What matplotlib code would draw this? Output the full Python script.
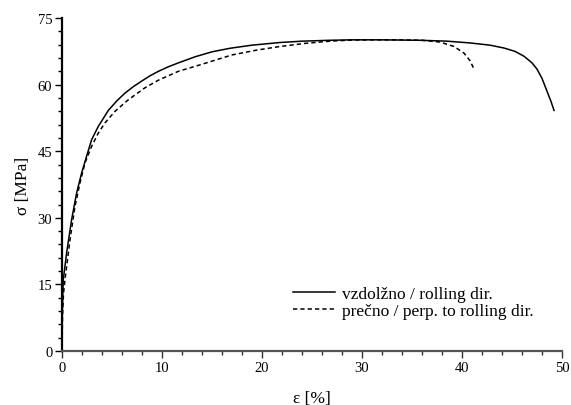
import matplotlib
matplotlib.use("Agg")
import matplotlib.pyplot as plt
from matplotlib.ticker import MultipleLocator

plt.rcParams['font.family'] = ['Liberation Serif', 'DejaVu Serif']

# rolling direction (solid)
rd_strain = [0.0, 0.03, 0.08, 0.13, 0.46, 0.96, 1.46, 1.96, 2.46, 2.96, 3.63, 4.63, 5.5,
             6.3, 7.1, 7.96, 8.8, 9.63, 10.6, 11.63, 13.33, 15.0, 16.8, 19.0, 21.8, 24.0,
             26.8, 29.0, 31.8, 34.0, 35.8, 38.5, 40.8, 42.8, 44.2, 45.3, 46.2, 47.0, 47.5,
             48.0, 48.5, 48.9, 49.2]
rd_stress = [0.0, 8.0, 13.0, 16.1, 22.1, 29.6, 35.6, 40.1, 43.9, 47.6, 50.6, 54.2, 56.4,
             58.1, 59.5, 60.8, 62.0, 63.0, 64.0, 64.9, 66.3, 67.4, 68.2, 68.9, 69.5, 69.8,
             70.0, 70.1, 70.1, 70.05, 70.0, 69.8, 69.4, 68.9, 68.25, 67.5, 66.4, 64.9, 63.5,
             61.4, 58.5, 56.2, 54.2]
# perpendicular to rolling direction (dashed)
pd_strain = [0.0, 0.05, 0.15, 0.3, 0.8, 1.3, 1.8, 2.3, 2.96, 3.63, 4.3, 5.3, 6.63, 8.3,
             9.63, 11.63, 14.0, 17.0, 19.5, 21.8, 24.3, 26.8, 29.0, 31.0, 33.5, 36.0,
             37.8, 39.2, 40.2, 40.8, 41.2]
pd_stress = [0.0, 8.0, 13.0, 16.1, 25.1, 32.6, 37.9, 42.4, 46.1, 49.1, 51.4, 54.0, 56.6, 59.3,
             61.0, 63.0, 64.6, 66.7, 67.8, 68.6, 69.3, 69.8, 70.05, 70.1, 70.1, 70.0,
             69.6, 68.6, 67.1, 65.4, 63.5]

labels = ['vzdolžno / rolling dir.', 'prečno / perp. to rolling dir.']
xticks = [0, 10, 20, 30, 40, 50]
yticks = [0, 15, 30, 45, 60, 75]

fig = plt.figure(figsize=(5.71, 4.06), dpi=100)
ax = fig.add_axes([0.1086, 0.133, 0.8757, 0.820])

ax.plot(rd_strain, rd_stress, color='black', lw=1.1, label=labels[0])
ax.plot(pd_strain, pd_stress, color='black', lw=1.1, ls=(0, (2.8, 2.0)), label=labels[1])

ax.set_xlim(0, 50)
ax.set_ylim(0, 75)
ax.set_xticks(xticks)
ax.set_yticks(yticks)
ax.xaxis.set_minor_locator(MultipleLocator(2))
ax.yaxis.set_minor_locator(MultipleLocator(3))
ax.tick_params(which='major', direction='out', length=5, width=1, labelsize=10.5, pad=2)
ax.tick_params(which='minor', direction='out', length=3, width=1)

for s in ['top', 'right']:
    ax.spines[s].set_visible(False)
ax.spines['left'].set_linewidth(1.6)
ax.spines['left'].set_color('black')
ax.spines['bottom'].set_linewidth(1.6)
ax.spines['bottom'].set_color('#555555')
ax.tick_params(axis='x', which='both', color='#333333')

ax.set_xlabel('ε [%]', fontsize=12.5, labelpad=12)
ax.set_ylabel('σ [MPa]', fontsize=12.5, labelpad=5)

leg = ax.legend(loc='center left', bbox_to_anchor=(0.5137, 0.2527),
                bbox_transform=fig.transFigure, frameon=False, fontsize=12.5,
                handlelength=2.4, handletextpad=0.4, labelspacing=0.02,
                borderpad=0, borderaxespad=0)

fig.savefig('out.png', dpi=100)
